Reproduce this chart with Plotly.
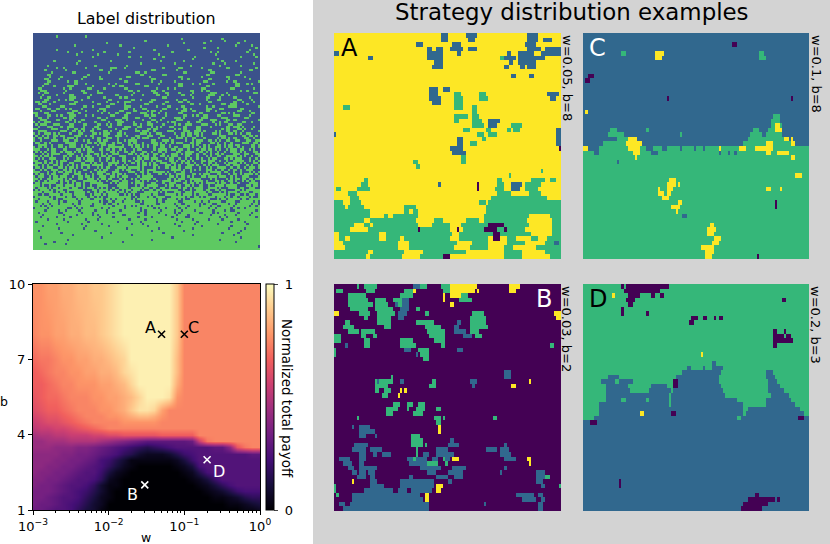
import math
import plotly.graph_objects as go

W, H = 830, 544

# Label distribution, 100 x 100 cells, each hex digit holds 4 cells (1 = green)
label_rows = [
"0000000000000000000000000","0020010000000000000000000","0000000000000000400010000","0000000000004000000208040",
"0000000080000000201000200","0000200002000010000000408","0000000000080000001040002","0020002000000400080000010",
"0001040100200004000240020","0000100804000100000080004","0000002000210040010000102","0000000000000400020040000",
"0040080020000080200010400","0000100000010002000108004","0200001000400000040020100",
"0024010038800040c02006002","0402000620000c01000600018","0080600040064000300300100","0300008000018060000c00600","0108030400601000c02006040",
"0610040602000c00480602010","0301300000c00882001804c01","0600310048060100c24100628","0841c02013006000c00c00600","300480c100c00212003001804",
"1c02060800320c40062c00120","2604030e00080630820384006","0820c0400c108310640712000","1300e08102c00060020c20c10","0612c40060190c01300860308",
"6c40302084e01830c80600c84","3100e00c30806040064019c20","0c0c0320c0e10218600903c01","6332840700c8c061340e30180","10c07109030c2c80730c80310",
"c601c8024c61c920c0601a80c","4328e12030c06c20329860e10","3206c00c81c61043a0381c060","1c30a6030e408c81c06386c01","a70328104708321608c12c0c8",
"5c70c30ca60d38429c38a3300","2389c21860e30a8c30c206e84","c0e1362c09c43602b0c016348","3c0e6a61a206e41c39d0a6c81","a7508c35c681d3826da1a3530",
"4a6c39618e4638c16ca0380da","b645d02ce41ae109d3105ac64","90e7328d84bc0c7412e6a6633","6503e0d7162c8ea5c6c3490e6","3c98e50b7136a6c83a946b60d",
"b49ae5a27f16a4cb3a54eb28d","e2c61ac6d28b05e6c8b6a5d94","54cba8e234d8c9a19e6a49d46","8af1c49a9c35a6475c92d0e63","d68695cb6382e4d7188a67d49",
"a9c51ae4d18b6e2c94a58d712","c4ae39e495a68b8d6a3724f95","75a8c6527c9ad4e659268bd46","ca6957be6942d63a8e95c6e29","6b9ad48ac7be85369c4a7925d",
"94e6a3158d62bc07a54e92d38","e25ba84f1c39a7d2640bec915","5ac7392ed684b1a9e35c62d7a","b96e4da735c2f80d6a37b94e1",
"d37a8ceb6295f41ae7c2856db","a5eb63f49dc6a27b95e8d34ac","6fc95a7e2bd78c4e36af5921e","e93bda4f87c5be2d9a64f7c36",
"bd6f72ea93df64c8b5e7a3d9c","5eb9fc37ad6e9b7f24ecd86bf","f7ad3e96fb5c7ea39df62bde7","c9f7be5d7ca9f63ebd79fa65d",
"7ebd9f6a7fe5dbc7e9af76de9","dfa7eb9ed76bfd9ea7fc5bedf","bde9f7fa6ef97dbf3edbe79fa","f6efb7de9bfe7cfd9fae7dbf6",
"eb7fdf9fef6bd7fef7bd9f7ed","7dfe6bfdbf7efadf6ffb7edbf","fbedf7ef7dfebf7dbefef67fd","dfe7fbdf6ffdbefd7f9ebfdf7",
"f7fbefd7fe7fbfdef7fdf7bef","efdf7ffbeffdf7fbe7ffdbffd","fdfbfef7ffdfbffefdfbefdff","bffeff7ffbfefdffbf7ffefbf",
"ffdffbfdffef7ffdfeffbffdf","f7fffeffbfffdfff7fdffefff","ffeffdffffbffefffdfffdfbf","dfffffeffffff7ffdfffffeff",
"fff7ffffdfffffbfffffefdff","ffffbfffffeffffffdffff7ff","effffffdfffffffbffffffeff","fffefffffffff7ffffffdffff",
"ffbffffffeffffffffffffbff","fbfdfffffffffffffffffffff","ffffffffffffffffffffffffe","fffffffffffffffffffffffff",
]

# Strategy panels: 50 bands (2 cells tall), runs of p/b/g/y over 100 columns
panel_a = [
"y47 b3 y8 b5 y22 b5 y10","y47 b3 y9 b3 y23 b5 y2 b4 y4","y36 b3 y13 b4 y28 b5 y11","y41 b2 y2 b3 y3 b6 y2 b4 y22 b6 y2 b7",
"b2 y39 b7 y6 b2 y20 b2 y3 b7 y3 b9","y15 b2 y24 b7 y25 g2 b5 y1 b12 y7","y44 b4 y29 b2 y2 b8 y11","y43 b5 y27 b2 y5 b2 y1 b4 y11",
"y100","y78 b2 y6 b2 y12","y100","y100","y42 b4 y2 b3 y49","y42 b4 y7 g3 y8 g3 y27 b5 y1","y42 b5 y6 g4 y7 g4 y27 b3 y2",
"y43 b4 y6 g4 y43","y4 g3 y46 g4 y4 g2 y37","y61 g2 y37","y53 g6 y2 g3 y36","y53 g2 y6 g4 y3 b5 y27","y61 g5 y2 b4 y6 g5 y17",
"y57 g3 y7 g2 y7 g2 y1 g3 y16 b2","b1 y62 g3 y2 g4 y26 b2","y54 b3 y8 g2 y31 b2","y54 b3 y3 g3 y35 b2","y51 b6 y42 p1","y52 b6 y42",
"y56 g2 y42","y35 g2 y19 g2 y42","y36 g2 y62","y91 g1 y8","y77 g1 y22","y13 g2 y57 g2 y13 g6 y2 g3 y2",
"y12 g3 y31 b1 y16 p1 y8 g3 y3 b5 y1 g7 y9","y1 g2 y7 g6 y47 p1 y7 g4 y3 b4 y2 g6 y8","y6 g4 y62 g6 y8 g5 y9","y7 g4 y58 g25 y6",
"g4 y3 g5 y52 g3 y1 g32","g5 y1 g7 y18 g5 y31 g33","g16 y15 g2 y2 g2 y30 g33","g16 y6 g2 y2 g11 y29 g20 y9 g5",
"g13 y3 g20 y8 g4 y10 g6 y2 g19 y11 g4","g9 y4 g3 y1 g20 y6 g8 y5 g12 p7 g11 y10 g4","g7 y8 g22 p1 g13 y3 p1 y2 g9 p6 g3 p1 g8 y12 g4",
"y2 g18 y3 g29 y3 g15 p3 g14 y9 g4","y2 g3 y2 g13 y3 g6 y2 g20 y4 g13 y2 p3 y3 g4 y7 g3 y4 g6","y4 g24 y5 g21 y7 g7 y8 g8 y9 g4 b2 g1",
"y5 g23 y5 g20 y7 g8 y7 g4 y10 g11","g15 y2 g14 y8 g19 y17 g8 y10 g7","g14 y2 g14 y8 g10 p3 y24 g8 y12 g5",
]
panel_b = [
"p10 g1 p2 g6 p16 b3 g3 p6 g4 y12 p14 y5 p18","p1 g3 p10 g4 p13 g4 y1 p12 g3 y11 p1 y1 p13 y3 p20","p6 g8 p15 g6 p13 y1 p2 y5 g3 p41",
"p6 g9 p3 g5 p3 g4 b3 p15 y1 p6 g6 p39","p6 g11 p1 g6 p3 b1 g2 b3 p18 y2 p47","p7 g8 p3 g8 p3 b4 p3 g2 p62",
"y2 p9 g5 p3 g8 p1 b4 p8 g2 p19 g5 p31 y3","p13 g2 p4 g6 p3 b3 p29 g7 p31 y2","p5 g2 p12 g6 p11 g8 p10 b2 p4 g7 p33",
"p4 g5 p13 g3 p15 g7 p6 b2 p5 g8 p32","p6 g5 p1 g6 p23 g8 p4 b5 p2 g4 p34","g3 p9 g2 p3 g2 p23 g7 p8 b4 p1 g3 p35","g3 p10 g3 p13 g6 p9 g5 p51",
"p5 b1 p7 g3 p13 g7 p11 g2 p46 g2 p3","g1 p30 b3 p3 g5 p12 b3 p43","g1 p35 b1 p1 g4 p58","p39 g3 p58","p100","p100","p75 b3 p22",
"p25 g1 p49 b3 p22","p18 g1 b1 g6 p3 b2 p12 g2 p15 b3 p23 y1 p13","p18 g6 p18 g3 p16 b1 p16 y2 p20","p18 g2 p2 g3 p4 y1 p1 y1 p68",
"p21 g3 p4 y1 p71","p100","p26 g3 p3 g3 p2 g3 p60","p23 g5 p4 g1 p3 g4 p5 g2 p53","p23 g3 p9 g4 p61","p10 g1 p33 g3 p1 g1 p21 g2 p28",
"p45 g2 p53","p8 b1 p2 b5 p30 y1 p53","p11 b7 p28 y1 p53","p11 b3 p4 b1 p15 g4 p62","p34 g5 p12 b2 p47",
"p9 b6 p19 g5 p1 g1 p9 b5 p20 b1 p24","p8 b6 p2 b5 p15 g1 p8 b5 p17 b5 p1 b4 p23","p11 b3 p3 b2 p2 b4 p11 g1 p2 b3 p3 b8 p20 b5 p22",
"p2 b5 p4 b3 p18 b3 g1 b5 p2 b3 p2 g1 b2 p1 y3 p20 b5 p5 y2 p13","p4 b4 p3 b2 p20 b8 g5 p3 g1 p36 y1 p13",
"p6 b3 p2 b8 p19 b9 p5 b6 p17 b1 p24","p8 b2 p1 b3 p1 b3 p23 b4 p5 b7 p16 b1 p15 b4 p7","p10 b4 p2 b2 p15 b2 p10 b5 p3 b4 p32 b4 g2 p5",
"p8 y1 p7 b3 p10 b15 p6 b2 p37 b3 p8","g1 p15 b6 p7 b15 p1 y3 p43 b2 p6 g1 p1","g1 p12 b13 p2 b4 p2 b9 p2 y2 p53",
"p1 g1 p6 b30 p2 y2 p38 b8 p2 b2 p8","p8 b31 p1 y2 p41 b6 p2 b2 p7","p2 b3 p2 b35 p24 b1 p23 b2 p8","p4 b38 p48 b2 p8",
]
panel_c = [
"b100","b100","b66 p2 b32","b100","b17 g2 b13 y4 b42 g2 b20","b32 y3 b43 g3 b19","b100","b100","b100","b2 p3 b95","b1 p2 b97","b100",
"b100","b100","b37 p1 b54 p1 b7","b100","b100","b1 y1 b98","b84 g3 b13","b83 g4 b13","b83 g2 y2 g1 b12",
"b12 g3 b13 g1 b46 g3 b4 g3 y3 b12","b11 g7 b25 g1 b30 g5 b2 g7 b12","b15 g5 y4 b49 g16 y2 b1 y1 b12","b9 g10 y7 b45 g10 y3 g8 y2 b6",
"y2 b5 g13 y5 g3 b3 g4 b2 g6 b1 g5 b1 g3 b1 g6 y1 g8 y3 g4 y8 g2","g5 b2 g15 y3 g5 b3 g27 b1 g3 b1 g2 b1 g13 y2 g3 y5 g9",
"g23 y1 g68 y2 g6","g15 b1 g84","g100","g100","g94 y3 g3","g38 y3 g59","g37 y4 g1 y1 g57","g33 y1 g3 y3 g41 y2 g4 y1 g12","g33 y3 g1 y2 g61",
"g35 y3 g62","g42 y2 g41 p1 g14","g39 y4 g42 p1 g14","g41 y1 g58","g44 b2 g54","g100","g56 y2 g42","g55 y4 g41","g55 y3 g42","g58 y3 g39",
"g57 y3 g40","g52 y6 g42","g54 y4 g42","g54 y3 g20 p1 g22",
]
panel_d = [
"g17 p1 g1 p19 g62","g18 p16 g66","g13 y1 g6 p5 g5 p2 g2 p2 g64","g19 p4 g65 p2 g10","g20 p2 g78","g17 p1 g82","g17 p1 g10 p1 g71",
"g48 p3 g2 p2 g3 p1 g1 p2 g38","g47 p2 g51","g100","g84 p2 g3 p1 g10","g84 p5 g1 p2 g8","g84 p9 g7","g84 p2 g14","g100","g52 y1 g47","g100",
"g57 b2 g41","g46 b2 g5 b1 g3 b5 g38","g44 b17 g20 b3 g16","g11 b5 g25 b19 g21 b4 g15","g8 b6 g2 b6 g18 p2 b18 g22 b4 g14",
"g10 b10 g10 b7 g3 p2 b19 g21 b5 g13","g10 b11 g8 b10 g1 b22 g20 b7 g11","g10 b28 g1 b24 g20 b8 g9",
"g10 b7 g2 b9 g1 b9 g1 b29 g13 b11 g8","g7 b31 g1 b32 g10 b13 g6","g7 b64 g2 b23 g4","g7 b18 y2 b12 p2 b30 g1 b26 g2","g5 b63 g2 b25 p3 b2",
"b3 p3 b94","b100","b100","b100","b100","b100","b100","b100","b100","b100","b100","b100","b100","b16 p1 b83","b16 p1 b83","b100",
"b76 p2 b22","b73 p12 b1 p1 b13","b71 p11 b18","b70 p9 b21",
]

# Normalized total payoff, base-36 levels (0..z = 0..1) over log10(w) columns
log_w = [-3 + i / 10 for i in range(31)]
b_values = [1, 1.25, 1.5, 1.75, 2, 2.25, 2.5, 2.75, 3, 3.25, 3.5, 3.75, 4, 4.25, 4.5, 4.75, 5, 5.5, 6, 6.5, 7, 8, 10]
payoff_rows = [
"bba9986431"+"0000000000"+"00000000112",
"cbba987532"+"0000000000"+"00000011234",
"ccba998642"+"1000000000"+"00001123566",
"cccba98753"+"1000000000"+"00012357888",
"dccba99863"+"1100000000"+"00124689999",
"ddccba9986"+"2100000000"+"01247999999",
"eddccba997"+"4210000000"+"12589999999",
"eeddccba98"+"6421000001"+"24899999999",
"eeeddccba8"+"7531111112"+"47999999999",
"eeeeddccba"+"9865322235"+"789999999aa",
"fffeeeddcb"+"a987656789"+"9999aaempqq",
"ffggghhhhg"+"fedcbaaaaa"+"abjpqqqqqqq",
"ghhiijjjkk"+"llmmmmmnnn"+"nnqqqqqqqqq",
"ijjkklmnop"+"qqqqqqqqqq"+"qqqqqqqqqqq",
"jkllmnopqq"+"qqrrrrrqqq"+"qqqqqqqqqqq",
"klmmnopqqq"+"rrstuutrqq"+"qqqqqqqqqqq",
"lmnnopqqqr"+"rstvxxwsqq"+"qqqqqqqqqqq",
"mnoopqqqrr"+"sstuwyyyxr"+"qqqqqqqqqqq",
"nnopqqrrrs"+"stuwyyyyyt"+"qqqqqqqqqqq",
"nopqqrrsst"+"tuwxyyyyyu"+"qqqqqqqqqqq",
"oppqrrsstt"+"uvwyyyyyyu"+"qqqqqqqqqqq",
"qrrssttuuv"+"wxyyyyyyyv"+"qqqqqqqqqqq",
"rrssttuuvv"+"wxyyyyyyyv"+"qqqqqqqqqqq",
]

point_names = ["A", "B", "C", "D"]
point_w = [0.05, 0.03, 0.1, 0.2]
point_b = [8, 2, 8, 3]
point_colors = ["black", "white", "black", "white"]
w_ticks = [0.001, 0.01, 0.1, 1]
w_ticktext = ["10<sup>\u22123</sup>", "10<sup>\u22122</sup>", "10<sup>\u22121</sup>", "10<sup>0</sup>"]
w_minor = [m * d for d in w_ticks[:3] for m in range(2, 10)]
b_ticks = [1, 4, 7, 10]

CODES = {"p": 0, "b": 1, "g": 2, "y": 3}
VIRIDIS4 = ["#440154", "#31688e", "#35b779", "#fde725"]


def decode_runs(rows):
    grid = []
    for row in rows:
        cells = []
        for run in row.split():
            cells += [CODES[run[0]]] * int(run[1:])
        cells = (cells + [cells[-1]] * 100)[:100]
        grid.append(cells)
        grid.append(cells)
    return grid


def decode_hex(rows):
    grid = []
    for row in rows:
        bits = "".join(f"{int(c, 16):04b}" for c in row)
        grid.append([int(c) for c in bits[:100]])
    return grid


def px_x(a, b):
    return [a / W, b / W]


def px_y(a, b):
    return [1 - b / H, 1 - a / H]


strategy_scale = []
for i, c in enumerate(VIRIDIS4):
    strategy_scale += [[i / 4, c], [(i + 1) / 4, c]]

fig = go.Figure()

fig.add_trace(go.Heatmap(z=decode_hex(label_rows), zmin=0, zmax=1, showscale=False, xaxis="x", yaxis="y",
                         colorscale=[[0, "#3b528b"], [0.5, "#3b528b"], [0.5, "#5ec962"], [1, "#5ec962"]]))

fig.add_trace(go.Heatmap(x=[10 ** v for v in log_w], y=b_values,
                         z=[[int(c, 36) / 35 for c in row] for row in payoff_rows],
                         zmin=0, zmax=1, zsmooth="best", colorscale="Magma", xaxis="x2", yaxis="y2",
                         colorbar=dict(x=266 / W, xanchor="left", xpad=0, y=1 - 510 / H, yanchor="bottom", ypad=0,
                                       len=226 / H, thickness=8, outlinewidth=1, outlinecolor="black",
                                       tickvals=[0, 1], ticktext=["\u00a00", "\u00a01"], ticks="outside", ticklen=4,
                                       tickfont=dict(size=13, color="black"))))
fig.add_trace(go.Scatter(x=point_w, y=point_b, mode="markers", xaxis="x2", yaxis="y2", showlegend=False,
                         marker=dict(symbol="x-thin", size=7, color=point_colors,
                                     line=dict(width=1.6, color=point_colors))))

panels = [
    (panel_a, "x3", "y3", (334, 561), (33, 259)),
    (panel_b, "x4", "y4", (334, 561), (284, 511)),
    (panel_c, "x5", "y5", (583, 809), (33, 259)),
    (panel_d, "x6", "y6", (583, 809), (284, 511)),
]
for rows, xa, ya, _, _ in panels:
    fig.add_trace(go.Heatmap(z=decode_runs(rows), zmin=0, zmax=3, colorscale=strategy_scale, showscale=False,
                             xaxis=xa, yaxis=ya))

hidden = dict(visible=False, range=[-0.5, 99.5])
layout = dict(
    width=W, height=H, autosize=False, margin=dict(l=0, r=0, t=0, b=0, pad=0, autoexpand=False),
    paper_bgcolor="white", plot_bgcolor="white",
    font=dict(family="DejaVu Sans", color="black"), showlegend=False,
    xaxis=dict(domain=px_x(33, 260), anchor="y", **hidden),
    yaxis=dict(domain=px_y(33, 259), anchor="x", visible=False, range=[99.5, -0.5]),
    xaxis2=dict(domain=px_x(33, 260), anchor="y2", type="log", range=[-3, 0], tickvals=w_ticks, ticktext=w_ticktext,
                ticks="outside", ticklen=4, tickcolor="black", tickfont=dict(size=13), showline=True, mirror=True,
                linecolor="black", linewidth=1, showgrid=False, zeroline=False,
                minor=dict(tickvals=w_minor, ticks="outside", ticklen=2, tickcolor="black", showgrid=False)),
    yaxis2=dict(domain=px_y(284, 510), anchor="x2", range=[1, 10], tickvals=b_ticks, ticks="outside", ticklen=4,
                tickcolor="black", tickfont=dict(size=13), showline=True, mirror=True, linecolor="black", linewidth=1,
                showgrid=False, zeroline=False),
    shapes=[dict(type="rect", xref="paper", yref="paper", x0=313 / W, x1=1, y0=0, y1=1, fillcolor="#d3d3d3",
                 line_width=0, layer="below")],
)
for n, (_, xa, ya, xr, yr) in enumerate(panels, start=3):
    layout[f"xaxis{n}"] = dict(domain=px_x(*xr), anchor=ya, **hidden)
    layout[f"yaxis{n}"] = dict(domain=px_y(*yr), anchor=xa, visible=False, range=[99.5, -0.5])
fig.update_layout(**layout)


def paper_text(text, x, y, size, color="black", angle=0):
    fig.add_annotation(text=text, xref="paper", yref="paper", x=x / W, y=1 - y / H, showarrow=False, textangle=angle,
                       font=dict(size=size, color=color), xanchor="center", yanchor="middle")


paper_text("Label distribution", 146, 19, 15.9)
paper_text("Strategy distribution examples", 572, 12, 22.9)
paper_text("w", 146, 537, 12.5)
paper_text("b", 4, 401, 12.5)
paper_text("Normalized total payoff", 287, 398, 13.5, angle=90)
paper_text("A", 349, 48, 24)
paper_text("B", 544, 299, 24, "white")
paper_text("C", 597, 48, 24, "white")
paper_text("D", 598, 299, 24)
paper_text("w=0.05, b=8", 567, 78, 13, angle=90)
paper_text("w=0.03, b=2", 567, 329, 13, angle=90)
paper_text("w=0.1, b=8", 816, 74, 13, angle=90)
paper_text("w=0.2, b=3", 816, 325, 13, angle=90)

# letters next to the crosses in the payoff map
offsets = {"A": (-11, 7), "B": (-12, -10), "C": (9, 7), "D": (12, -12)}
for name, w_val, b_val, color in zip(point_names, point_w, point_b, point_colors):
    dx, dy = offsets[name]
    fig.add_annotation(text=name, xref="x2", yref="y2", x=math.log10(w_val), y=b_val, xshift=dx, yshift=dy,
                       showarrow=False, font=dict(size=16, color=color))

# the browser's default body margin would push the figure 8px down and right
fig.write_html("out.html", config={"displayModeBar": False}, post_script="document.body.style.margin='0';")
